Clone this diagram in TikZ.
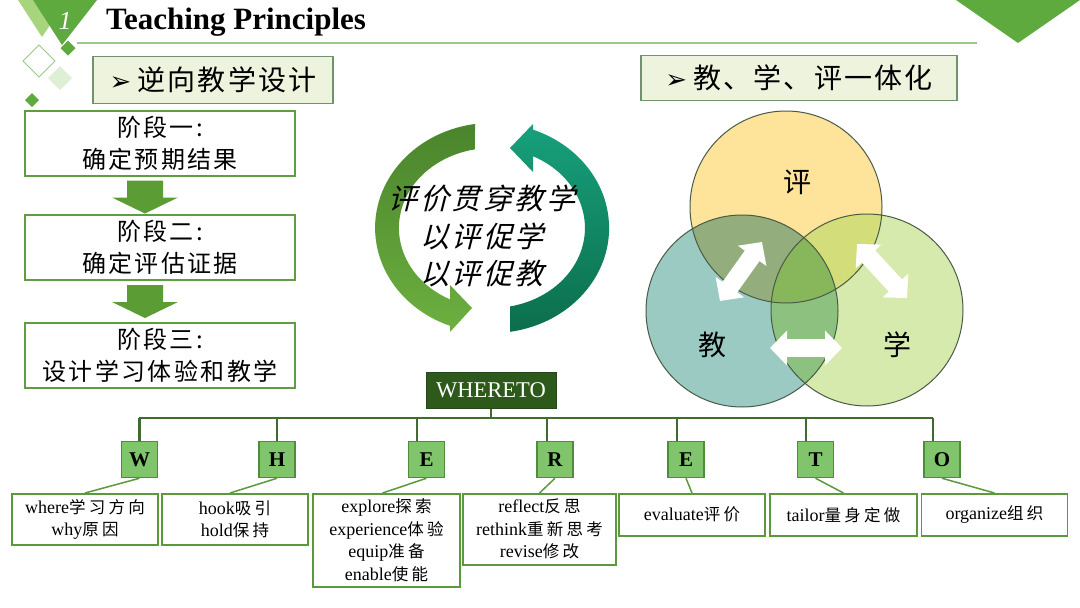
\documentclass[tikz,border=0pt]{standalone}
\usepackage{fontspec}
\setmainfont{Liberation Serif}
\newfontfamily\cjk{Noto Sans CJK SC}
\newfontfamily\cjkT{Noto Sans CJK SC}[LetterSpace=8]
\newfontfamily\cjkS{Noto Sans CJK SC}[LetterSpace=10]
\newfontfamily\cjkI{Noto Sans CJK SC}[FakeSlant=0.25,LetterSpace=9]
\newfontfamily\cjkD{Noto Sans CJK SC}[LetterSpace=20]
\newfontfamily\sym{DejaVu Sans}
\newcommand\zh[1]{{\cjkD\fontsize{16.5}{22.5}\selectfont #1}}
\usetikzlibrary{calc,arrows.meta}
\definecolor{hdrgreen}{HTML}{5FAA3F}
\definecolor{lightband}{HTML}{A8D47E}
\definecolor{palegreen}{HTML}{DDF0D6}
\definecolor{linegreen}{HTML}{9DC88D}
\definecolor{tbfill}{HTML}{EEF3DD}
\definecolor{tbdraw}{HTML}{6F926F}
\definecolor{stagegreen}{HTML}{5E9E3E}
\definecolor{arrgreen}{HTML}{5C9C34}
\definecolor{lgA}{HTML}{4A842C}
\definecolor{lgB}{HTML}{6DB040}
\definecolor{tgA}{HTML}{17A07C}
\definecolor{tgB}{HTML}{0C6E4C}
\definecolor{vyel}{HTML}{FDE49A}
\definecolor{vteal}{HTML}{9ACAC2}
\definecolor{vgreen}{HTML}{D6EAAE}
\definecolor{vyt}{HTML}{93AE7C}
\definecolor{vyg}{HTML}{D3DE7B}
\definecolor{vtg}{HTML}{8DC180}
\definecolor{vall}{HTML}{88B65B}
\definecolor{vline}{HTML}{4A5A48}
\definecolor{wfill}{HTML}{2D5A1B}
\definecolor{wdraw}{HTML}{24481A}
\definecolor{treeline}{HTML}{3E6B2E}
\definecolor{lfill}{HTML}{80C46C}
\definecolor{lbord}{HTML}{4F8D3A}
\definecolor{dbord}{HTML}{5A9A3C}
\begin{document}
\begin{tikzpicture}[x=1pt,y=-1pt,
  titlebox/.style={draw=tbdraw, fill=tbfill, line width=1.5, inner sep=0},
  stagebox/.style={draw=stagegreen, line width=2, fill=white, minimum width=270, minimum height=65, align=center, inner sep=0, font=\cjkS\fontsize{24}{32}\selectfont},
  vlabel/.style={font=\cjk\fontsize{28}{28}\selectfont, inner sep=0},
  wdbl/.style={white, line width=18, {Triangle[length=17pt,width=34pt]}-{Triangle[length=17pt,width=34pt]}},
  tree/.style={draw=treeline, line width=2.5},
  letterbox/.style={draw=lbord, fill=lfill, line width=1.5, minimum width=36, minimum height=36, inner sep=0, font=\bfseries\fontsize{21}{21}\selectfont},
  descbox/.style={draw=dbord, fill=white, line width=1.5, anchor=north, align=center, inner sep=0, font=\fontsize{18}{22.5}\selectfont},
  dline/.style={draw=dbord, line width=1.5}
]
\useasboundingbox (0,0) rectangle (1080,608);
\fill[white] (0,0) rectangle (1080,608);

% header decorations
\fill[lightband] (18,0) -- (34,0) -- (50,25) -- (42,37) -- cycle;
\fill[hdrgreen] (33,0) -- (97,0) -- (62,45) -- cycle;
\node[text=white, font=\itshape\fontsize{26}{26}\selectfont, inner sep=0] (num) at (65,21) {1};
\fill[hdrgreen] (68,40.5) -- (75.5,48) -- (68,55.5) -- (60.5,48) -- cycle;
\draw[linegreen, fill=white, line width=1] (39,45) -- (55,61) -- (39,77) -- (23,61) -- cycle;
\fill[palegreen] (60,66) -- (72,78) -- (60,90) -- (48,78) -- cycle;
\fill[hdrgreen] (32,93) -- (39,100) -- (32,107) -- (25,100) -- cycle;
\fill[hdrgreen] (956,0) -- (1080,0) -- (1018,43) -- cycle;
\draw[linegreen, line width=1.2] (77,43) -- (977,43);
\node[anchor=base west, inner sep=0, font=\bfseries\fontsize{31}{31}\selectfont] (title) at (106,29) {Teaching Principles};

% title boxes
\node[titlebox, minimum width=240, minimum height=47] (tb1) at (213,80)
  {{\sym\fontsize{26}{26}\selectfont ➢}\hspace{6pt}{\cjkT\fontsize{28}{28}\selectfont 逆向教学设计}};
\node[titlebox, minimum width=316, minimum height=45] (tb2) at (799,78)
  {{\sym\fontsize{26}{26}\selectfont ➢}\hspace{6pt}{\cjkT\fontsize{28}{28}\selectfont 教、学、评一体化}\hspace{17pt}};

% stages
\node[stagebox] (s1) at (160,143) {阶段一:\\确定预期结果};
\node[stagebox] (s2) at (160,247.5) {阶段二:\\确定评估证据};
\node[stagebox] (s3) at (160,355.5) {阶段三:\\设计学习体验和教学};
\coordinate (a1) at ($(s1.south)+(-15,4)$);
\coordinate (a2) at ($(s2.south)+(-15,4)$);
\fill[arrgreen] ($(a1)+(-18,0)$) -- ++(36,0) -- ++(0,17) -- ++(15,0) -- ++(-33,16) -- ++(-33,-16) -- ++(15,0) -- cycle;
\fill[arrgreen] ($(a2)+(-18,0)$) -- ++(36,0) -- ++(0,17) -- ++(15,0) -- ++(-33,16) -- ++(-33,-16) -- ++(15,0) -- cycle;

% circular arrows
\shade[top color=lgA, bottom color=lgB] (475,124)
  arc[start angle=261.6, end angle=111, x radius=117, y radius=105]
  -- (450,332) -- (472,308) -- (450,285) -- (450,299.4)
  arc[start angle=116.8, end angle=259.5, x radius=93, y radius=80] -- cycle;
\shade[top color=tgA, bottom color=tgB] (510,331.8)
  arc[start angle=81.2, end angle=-69.5, x radius=117, y radius=105]
  -- (533,124) -- (510,148) -- (533,172) -- (533,156.2)
  arc[start angle=-63.8, end angle=78.8, x radius=93, y radius=80] -- cycle;
\node[align=center, inner sep=0, font=\cjkI\fontsize{29}{37.5}\selectfont] (cyc) at (482,236)
  {评价贯穿教学\\以评促学\\以评促教};

% Venn
\coordinate (vy) at (786,207);
\coordinate (vt) at (742,311);
\coordinate (vg) at (867,310);
\fill[vyel] (vy) circle[radius=96];
\fill[vteal] (vt) circle[radius=96];
\fill[vgreen] (vg) circle[radius=96];
\begin{scope}
  \clip (vy) circle[radius=96];
  \fill[vyt] (vt) circle[radius=96];
  \fill[vyg] (vg) circle[radius=96];
\end{scope}
\begin{scope}
  \clip (vt) circle[radius=96];
  \fill[vtg] (vg) circle[radius=96];
\end{scope}
\begin{scope}
  \clip (vy) circle[radius=96];
  \clip (vt) circle[radius=96];
  \fill[vall] (vg) circle[radius=96];
\end{scope}
\draw[vline, line width=1] (vy) circle[radius=96];
\draw[vline, line width=1] (vt) circle[radius=96];
\draw[vline, line width=1] (vg) circle[radius=96];
\node[vlabel] (lp) at (797,182) {评};
\node[vlabel] (lj) at (712,345) {教};
\node[vlabel] (lx) at (897,345) {学};
\coordinate (d1a) at (720,301);
\coordinate (d1b) at (762,242);
\coordinate (d2a) at (857,244);
\coordinate (d2b) at (907,298);
\coordinate (d3a) at (770,348);
\coordinate (d3b) at (842,348);
\draw[wdbl] (d1a) -- (d1b);
\draw[wdbl] (d2a) -- (d2b);
\draw[wdbl] (d3a) -- (d3b);

% WHERETO tree
\node[draw=wdraw, fill=wfill, line width=1, minimum width=130, minimum height=36, inner sep=0,
  text=white, font=\fontsize{22.5}{22.5}\selectfont] (wt) at (491,390) {WHERETO};
\coordinate (busL) at (139,418);
\coordinate (busR) at (933,418);
\draw[tree] (wt.south) -- (wt.south |- busL);
\draw[tree] (busL) -- (busR);

\node[letterbox] (lW) at (139.5,459.5) {W};
\node[letterbox] (lH) at (277,459.5) {H};
\node[letterbox] (lE) at (426.5,459.5) {E};
\node[letterbox] (lR) at (555,459.5) {R};
\node[letterbox] (lE2) at (686,459.5) {E};
\node[letterbox] (lT) at (815.5,459.5) {T};
\node[letterbox] (lO) at (942,459.5) {O};

\draw[tree] (lW.north) -- (lW.north |- busL);
\draw[tree] (lH.north) -- (lH.north |- busL);
\draw[tree] ([xshift=-9.5pt]lE.north) -- ([xshift=-9.5pt]lE.north |- busL);
\draw[tree] ([xshift=-8pt]lR.north) -- ([xshift=-8pt]lR.north |- busL);
\draw[tree] ([xshift=-9pt]lE2.north) -- ([xshift=-9pt]lE2.north |- busL);
\draw[tree] ([xshift=-9.5pt]lT.north) -- ([xshift=-9.5pt]lT.north |- busL);
\draw[tree] ([xshift=-9pt]lO.north) -- ([xshift=-9pt]lO.north |- busL);

\node[descbox, minimum width=146, minimum height=51] (dW) at (85,493) {where\zh{学习方向}\\why\zh{原因}};
\node[descbox, minimum width=146, minimum height=51] (dH) at (235,493) {hook\zh{吸引}\\hold\zh{保持}};
\node[descbox, minimum width=147, minimum height=93] (dE) at (386.5,493) {explore\zh{探索}\\experience\zh{体验}\\equip\zh{准备}\\enable\zh{使能}};
\node[descbox, minimum width=153, minimum height=71] (dR) at (539.5,493) {reflect\zh{反思}\\rethink\zh{重新思考}\\revise\zh{修改}};
\node[descbox, minimum width=146, minimum height=42] (dE2) at (692,493) {evaluate\zh{评价}};
\node[descbox, minimum width=147, minimum height=42] (dT) at (843.5,493) {tailor\zh{量身定做}};
\node[descbox, minimum width=146, minimum height=42] (dO) at (994.5,493) {organize\zh{组织}};

\draw[dline] (lW.south) -- (dW.north);
\draw[dline] (lH.south) -- ([xshift=-5pt]dH.north);
\draw[dline] (lE.south) -- ([xshift=-4pt]dE.north);
\draw[dline] (lR.south) -- (dR.north);
\draw[dline] (lE2.south) -- (dE2.north);
\draw[dline] (lT.south) -- (dT.north);
\draw[dline] (lO.south) -- (dO.north);
\end{tikzpicture}
\end{document}
